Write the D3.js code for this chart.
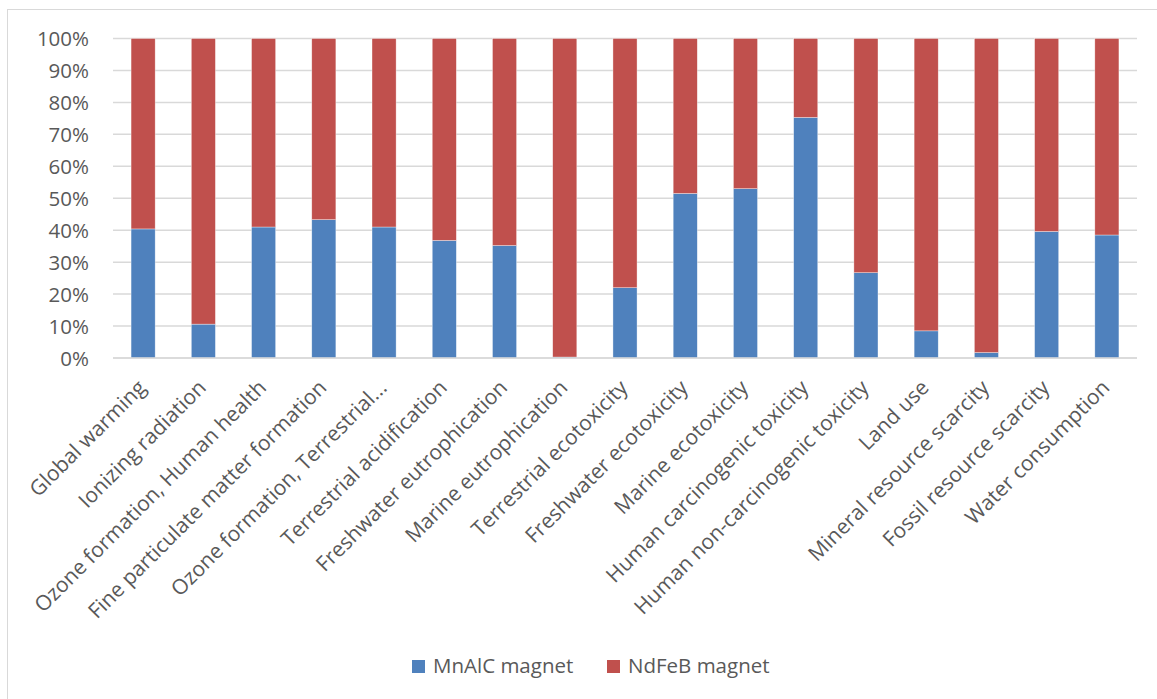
<!DOCTYPE html>
<html>
<head>
<meta charset="utf-8">
<script src="https://cdn.jsdelivr.net/npm/d3@7"></script>
<style>
  html, body { margin: 0; padding: 0; background: #fff; }
  svg { display: block; }
  text { font-family: "Open Sans", sans-serif; fill: #595959; }
</style>
</head>
<body>
<svg id="chart" width="1157" height="699"></svg>
<script>
const categories = [
  "Global warming",
  "Ionizing radiation",
  "Ozone formation, Human health",
  "Fine particulate matter formation",
  "Ozone formation, Terrestrial...",
  "Terrestrial acidification",
  "Freshwater eutrophication",
  "Marine eutrophication",
  "Terrestrial ecotoxicity",
  "Freshwater ecotoxicity",
  "Marine ecotoxicity",
  "Human carcinogenic toxicity",
  "Human non-carcinogenic toxicity",
  "Land use",
  "Mineral resource scarcity",
  "Fossil resource scarcity",
  "Water consumption"
];
const mnalc = [40.4, 10.6, 41.0, 43.3, 41.0, 36.8, 35.2, 0.3, 22.0, 51.5, 53.0, 75.3, 26.7, 8.5, 1.7, 39.6, 38.5];
const ndfeb = [59.6, 89.4, 59.0, 56.7, 59.0, 63.2, 64.8, 99.7, 78.0, 48.5, 47.0, 24.7, 73.3, 91.5, 98.3, 60.4, 61.5];
const seriesNames = ["MnAlC magnet", "NdFeB magnet"];
const seriesColors = ["#4F81BD", "#C0504D"];
const yTicks = [0, 10, 20, 30, 40, 50, 60, 70, 80, 90, 100];

const svg = d3.select("#chart");

// chart border
svg.append("rect")
  .attr("x", 7.5).attr("y", 9.5)
  .attr("width", 1157).attr("height", 699)
  .attr("fill", "none").attr("stroke", "#D9D9D9").attr("stroke-width", 1);

const pLeft = 113, pRight = 1137, pTop = 38.5, pBottom = 358;

const x = d3.scaleBand().domain(categories).range([pLeft, pRight]).paddingInner(0.6).paddingOuter(0.3);
const y = d3.scaleLinear().domain([0, 100]).range([pBottom, pTop]);

// gridlines
svg.append("g").selectAll("line").data(yTicks).join("line")
  .attr("x1", pLeft).attr("x2", pRight)
  .attr("y1", d => y(d)).attr("y2", d => y(d))
  .attr("stroke", "#D9D9D9").attr("stroke-width", 1.5);

// y-axis labels
const yAxis = d3.axisLeft(y).tickValues(yTicks).tickFormat(d => d + "%").tickSize(0).tickPadding(0);
const yg = svg.append("g").attr("transform", `translate(${pLeft - 24},0)`).call(yAxis);
yg.select(".domain").remove();
yg.selectAll("text").attr("font-size", 20.5).attr("fill", "#595959")
  .attr("font-family", "Open Sans, sans-serif").attr("dy", "0.35em");

// stacked data
const rows = categories.map((c, i) => ({ cat: c, a: mnalc[i], b: ndfeb[i] }));
const stacked = d3.stack().keys(["a", "b"])(rows);

svg.append("g").selectAll("g").data(stacked).join("g")
  .attr("fill", (d, i) => seriesColors[i])
  .selectAll("rect").data(d => d).join("rect")
  .attr("x", d => x(d.data.cat))
  .attr("width", x.bandwidth())
  .attr("y", d => y(d[1]))
  .attr("height", d => y(d[0]) - y(d[1]))
  .attr("stroke", "#fff").attr("stroke-width", 0.6).attr("stroke-opacity", 0.6);

// x-axis line
svg.append("line")
  .attr("x1", pLeft).attr("x2", pRight).attr("y1", pBottom).attr("y2", pBottom)
  .attr("stroke", "#D9D9D9").attr("stroke-width", 1.5);

// x labels
const xAxis = d3.axisBottom(x).tickSize(0).tickPadding(0);
const xg = svg.append("g").attr("transform", `translate(0,${pBottom})`).call(xAxis);
xg.select(".domain").remove();
xg.selectAll("text")
  .attr("font-size", 21).attr("fill", "#595959")
  .attr("font-family", "Open Sans, sans-serif")
  .attr("text-anchor", "end")
  .attr("y", null).attr("dy", null)
  .attr("transform", "translate(4,31) rotate(-45)");

// legend
const legend = svg.append("g").attr("transform", "translate(412,660)");
const legX = [0, 195];
seriesNames.forEach((n, i) => {
  const g = legend.append("g").attr("transform", `translate(${legX[i]},0)`);
  g.append("rect").attr("width", 13).attr("height", 13).attr("fill", seriesColors[i]);
  g.append("text").attr("x", 21).attr("y", 13).attr("font-size", 20.5).text(n);
});
</script>
</body>
</html>
